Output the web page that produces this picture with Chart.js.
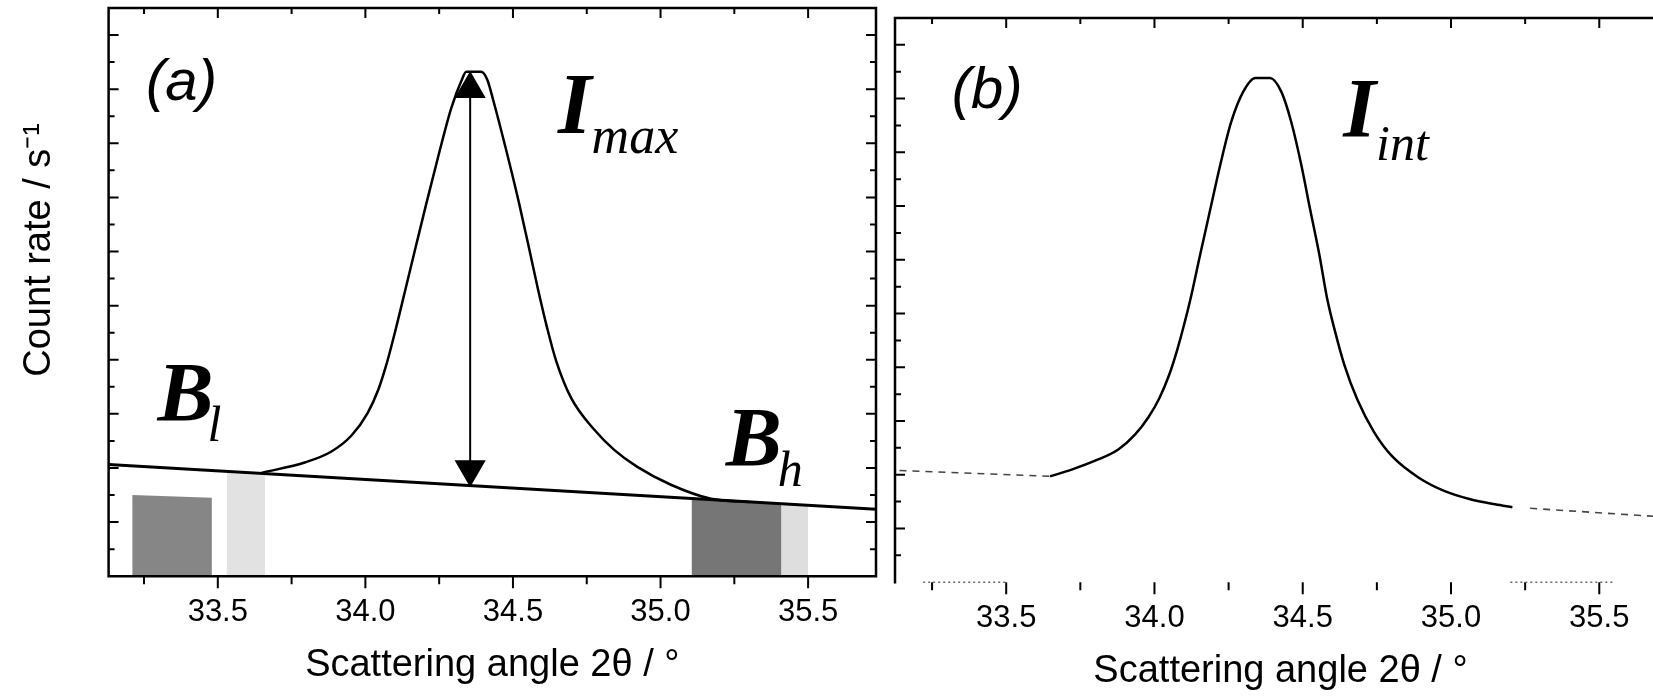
<!DOCTYPE html>
<html>
<head>
<meta charset="utf-8">
<script src="https://cdn.jsdelivr.net/npm/chart.js@4.4.0/dist/chart.umd.min.js"></script>
<style>
  html, body { margin: 0; padding: 0; background: #fff; overflow: hidden; }
  #wrapA { position: absolute; left: 0; top: 0; width: 884px; height: 696px; }
  #wrapB { position: absolute; left: 884px; top: 6px; width: 790px; height: 696px; }
</style>
</head>
<body>
<div id="wrapA"><canvas id="chartA"></canvas></div>
<div id="wrapB"><canvas id="chartB"></canvas></div>
<script>
// ===== values =====
// x axis (scattering angle 2theta, degrees)
const xTicks = [33.25, 33.5, 33.75, 34.0, 34.25, 34.5, 34.75, 35.0, 35.25, 35.5];
const xTickLabels = ['', '33.5', '', '34.0', '', '34.5', '', '35.0', '', '35.5'];

// panel (a): straight background line B_l -> B_h
const bgX = [33.13, 35.73];
const bgY = [4.13, 2.47];

// panel (a): peak profile
const peakAX = [33.648, 33.797, 33.885, 33.953, 34.007, 34.044, 34.074, 34.101, 34.125, 34.169, 34.206, 34.250, 34.291, 34.325, 34.342,
                34.392, 34.413, 34.433, 34.477, 34.521, 34.555, 34.585, 34.616, 34.646, 34.697, 34.775, 34.843, 34.920, 35.035, 35.171, 35.299];
const peakAY = [3.82, 4.21, 4.61, 5.20, 6.02, 6.90, 7.93, 9.05, 10.12, 12.10, 13.75, 15.65, 17.30, 18.30, 18.64,
                18.64, 18.35, 17.60, 15.75, 13.77, 12.10, 10.60, 9.17, 7.97, 6.59, 5.42, 4.67, 4.05, 3.38, 2.86, 2.74];

// panel (a): I_max arrow (peak top down to the background)
const arrowX = [34.355, 34.355];
const arrowY = [18.01, 3.95];

// panel (a): shaded background windows
const shadeLX = [33.21, 33.48];
const shadeLY = [3.0, 2.9];
const shadeL2X = [33.53, 33.66];
const shadeL2Y = [3.82, 3.72];
const shadeHX = [35.105, 35.41];
const shadeHY = [2.86, 2.68];
const shadeH2X = [35.41, 35.50];
const shadeH2Y = [2.68, 2.62];

// panel (b): integrated peak profile
const peakBX = [33.648, 33.723, 33.804, 33.878, 33.935, 33.979, 34.016, 34.050, 34.077, 34.100, 34.121, 34.154, 34.188, 34.222, 34.259, 34.299, 34.340,
                34.390, 34.428, 34.461, 34.495, 34.525, 34.556, 34.583, 34.610, 34.640, 34.684, 34.741, 34.802, 34.890, 34.981, 35.065, 35.149, 35.207];
const peakBY = [3.94, 4.20, 4.54, 4.94, 5.50, 6.13, 6.84, 7.73, 8.66, 9.59, 10.52, 12.19, 13.87, 15.54, 17.14, 18.25, 18.77,
                18.77, 18.25, 17.14, 15.54, 13.87, 12.19, 10.52, 9.29, 8.10, 6.80, 5.58, 4.68, 3.90, 3.38, 3.09, 2.90, 2.79];
// panel (b): faint background tails outside the integration range
const tailLX = [33.14, 33.648];
const tailLY = [4.16, 3.94];
const tailRX = [35.267, 35.73];
const tailRY = [2.75, 2.42];

const FONT_SANS = '"Liberation Sans", Arial, sans-serif';
const FONT_SERIF = '"Liberation Serif", "Times New Roman", serif';

function pts(xs, ys) {
  return xs.map((x, i) => ({ x: x, y: ys[i] }));
}

// box, ticks pointing in (top/left/right) and out (bottom)
const framePlugin = {
  id: 'frame',
  afterDatasetsDraw(chart, args, opts) {
    const ctx = chart.ctx;
    const a = chart.chartArea;
    const x = chart.scales.x, y = chart.scales.y;
    ctx.save();
    ctx.strokeStyle = '#000';
    ctx.lineWidth = opts.width;
    ctx.lineCap = 'square';
    ctx.beginPath();
    if (opts.left) { ctx.moveTo(a.left, a.top); ctx.lineTo(a.left, a.bottom); }
    if (opts.top) { ctx.moveTo(a.left, a.top); ctx.lineTo(a.right, a.top); }
    if (opts.right) { ctx.moveTo(a.right, a.top); ctx.lineTo(a.right, a.bottom); }
    if (opts.bottom) { ctx.moveTo(a.left, a.bottom); ctx.lineTo(a.right, a.bottom); }
    ctx.stroke();

    ctx.lineWidth = 2;
    ctx.lineCap = 'butt';
    ctx.beginPath();
    x.ticks.forEach((t, i) => {
      const px = x.getPixelForValue(t.value);
      const len = xTickLabels[i] ? 10 : 6;
      if (opts.top) { ctx.moveTo(px, a.top); ctx.lineTo(px, a.top + len); }
      ctx.moveTo(px, a.bottom); ctx.lineTo(px, a.bottom + len + 2);
    });
    y.ticks.forEach(t => {
      if (t.value <= y.min || t.value >= y.max) return;
      const py = y.getPixelForValue(t.value);
      const len = t.value % 2 === 0 ? 10 : 6;
      if (opts.left) { ctx.moveTo(a.left, py); ctx.lineTo(a.left + len, py); }
      if (opts.right) { ctx.moveTo(a.right, py); ctx.lineTo(a.right - len, py); }
    });
    ctx.stroke();

    // broken dotted pieces of the bottom axis (panel b)
    if (opts.dots) {
      ctx.strokeStyle = '#666';
      ctx.lineWidth = 1.5;
      ctx.setLineDash([2, 3]);
      ctx.beginPath();
      opts.dots.forEach(d => {
        ctx.moveTo(x.getPixelForValue(d[0]), a.bottom);
        ctx.lineTo(x.getPixelForValue(d[1]), a.bottom);
      });
      ctx.stroke();
    }
    ctx.restore();
  }
};

// (a), I_max, B_l ... placed in data coordinates
const notesPlugin = {
  id: 'notes',
  afterDraw(chart, args, opts) {
    const ctx = chart.ctx;
    const x = chart.scales.x, y = chart.scales.y;
    ctx.save();
    ctx.fillStyle = '#000';
    opts.items.forEach(n => {
      const px = x.getPixelForValue(n.x);
      const py = y.getPixelForValue(n.y);
      ctx.font = n.font;
      ctx.textAlign = n.align || 'left';
      ctx.textBaseline = n.baseline || 'alphabetic';
      ctx.fillText(n.text, px, py);
      if (n.sub) {
        const w = ctx.measureText(n.text).width;
        ctx.font = n.subFont;
        ctx.textAlign = 'left';
        ctx.textBaseline = 'alphabetic';
        ctx.fillText(n.sub, px + w + (n.subDx || 0), py + n.subDy);
      }
    });
    ctx.restore();
  }
};

function xAxis(min, max) {
  return {
    type: 'linear',
    min: min,
    max: max,
    afterBuildTicks: axis => { axis.ticks = xTicks.map(v => ({ value: v })); },
    ticks: {
      callback: (v, i) => xTickLabels[i],
      color: '#000',
      font: { family: FONT_SANS, size: 31 },
      padding: 7,
      maxRotation: 0,
      autoSkip: false
    },
    grid: { drawOnChartArea: false, drawTicks: true, tickLength: 11, tickColor: 'rgba(0,0,0,0)' },
    border: { display: false },
    title: {
      display: true,
      text: 'Scattering angle 2θ / °',
      color: '#000',
      font: { family: FONT_SANS, size: 38 },
      padding: { top: 4, bottom: 4 }
    }
  };
}

function yAxis(withTitle) {
  return {
    type: 'linear',
    min: 0,
    max: 21,
    ticks: { display: false, stepSize: 1 },
    grid: { display: false, drawTicks: false },
    border: { display: false },
    title: {
      display: withTitle,
      text: '\u00a0\u00a0\u00a0\u00a0\u00a0\u00a0\u00a0\u00a0Count rate / s⁻¹',
      color: '#000',
      font: { family: FONT_SANS, size: 38 },
      padding: { top: 17, bottom: 46 }
    }
  };
}

function lineSet(xs, ys, extra) {
  return Object.assign({
    data: pts(xs, ys),
    showLine: true,
    borderColor: '#000',
    borderWidth: 2.5,
    pointRadius: 0,
    fill: false
  }, extra);
}

function shadeSet(xs, ys, color) {
  return lineSet(xs, ys, { borderWidth: 0, borderColor: 'rgba(0,0,0,0)', backgroundColor: color, fill: 'origin', order: 9 });
}

const chartA = new Chart(document.getElementById('chartA'), {
  type: 'scatter',
  data: {
    datasets: [
      shadeSet(shadeLX, shadeLY, '#868686'),
      shadeSet(shadeL2X, shadeL2Y, '#e2e2e2'),
      shadeSet(shadeHX, shadeHY, '#767676'),
      shadeSet(shadeH2X, shadeH2Y, '#dedede'),
      lineSet(bgX, bgY, { borderWidth: 3, order: 3 }),
      lineSet(peakAX, peakAY, { cubicInterpolationMode: 'monotone', order: 2 }),
      lineSet(arrowX, arrowY, {
        borderWidth: 2,
        pointStyle: 'triangle',
        pointRadius: 16,
        pointRotation: [0, 180],
        pointBackgroundColor: '#000',
        pointBorderColor: '#000',
        order: 1
      })
    ]
  },
  options: {
    animation: false,
    responsive: true,
    maintainAspectRatio: false,
    layout: { autoPadding: false, padding: { left: 0, right: 8, top: 8, bottom: 4 } },
    scales: { x: xAxis(33.13, 35.73), y: yAxis(true) },
    plugins: {
      legend: { display: false },
      tooltip: { enabled: false },
      frame: { width: 2.5, left: true, top: true, right: true, bottom: true },
      notes: {
        items: [
          { text: '(a)', x: 33.377, y: 18.19, font: 'italic 58px ' + FONT_SANS, align: 'center', baseline: 'middle' },
          { text: 'I', sub: 'max', x: 34.653, y: 16.38, font: 'italic bold 86px ' + FONT_SERIF, subFont: 'italic 52px ' + FONT_SERIF, subDy: 20 },
          { text: 'B', sub: 'l', x: 33.296, y: 5.72, font: 'italic bold 84px ' + FONT_SERIF, subFont: 'italic 50px ' + FONT_SERIF, subDy: 20, subDx: -6 },
          { text: 'B', sub: 'h', x: 35.221, y: 4.06, font: 'italic bold 84px ' + FONT_SERIF, subFont: 'italic 50px ' + FONT_SERIF, subDy: 20, subDx: -4 }
        ]
      }
    }
  },
  plugins: [framePlugin, notesPlugin]
});

const chartB = new Chart(document.getElementById('chartB'), {
  type: 'scatter',
  data: {
    datasets: [
      lineSet(tailLX, tailLY, { borderWidth: 1.6, borderColor: '#444', borderDash: [7, 6] }),
      lineSet(tailRX, tailRY, { borderWidth: 1.6, borderColor: '#444', borderDash: [7, 6] }),
      lineSet(peakBX, peakBY, { cubicInterpolationMode: 'monotone' })
    ]
  },
  options: {
    animation: false,
    responsive: true,
    maintainAspectRatio: false,
    layout: { autoPadding: false, padding: { left: 11, right: 8, top: 12, bottom: 4 } },
    scales: { x: xAxis(33.125, 35.725), y: yAxis(false) },
    plugins: {
      legend: { display: false },
      tooltip: { enabled: false },
      frame: { width: 2.5, left: true, top: true, right: false, bottom: false, dots: [[33.22, 33.5], [35.2, 35.55]] },
      notes: {
        items: [
          { text: '(b)', x: 33.436, y: 18.25, font: 'italic 58px ' + FONT_SANS, align: 'center', baseline: 'middle' },
          { text: 'I', sub: 'int', x: 34.637, y: 16.58, font: 'italic bold 84px ' + FONT_SERIF, subFont: 'italic 50px ' + FONT_SERIF, subDy: 23 }
        ]
      }
    }
  },
  plugins: [framePlugin, notesPlugin]
});
</script>
</body>
</html>
